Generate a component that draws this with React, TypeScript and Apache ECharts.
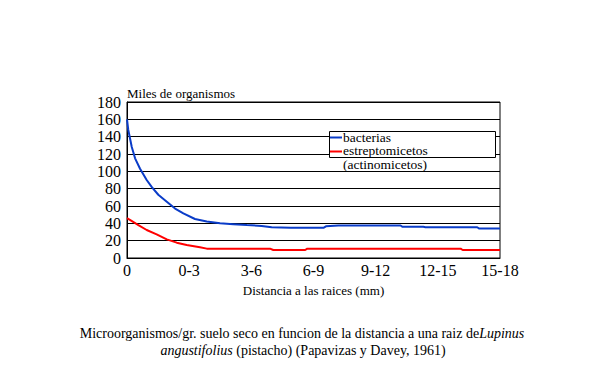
import React, { useEffect, useRef } from "react";
import * as echarts from "echarts";

const xTickLabels = ["0", "0-3", "3-6", "6-9", "9-12", "12-15", "15-18"];
const yTicks = [0, 20, 40, 60, 80, 100, 120, 140, 160, 180];

const bacteriaX = [0, 0.06, 0.23, 0.39, 0.63, 0.95, 1.19, 1.51, 1.92, 2.32, 2.72, 3.28, 3.85, 4.49, 5.13, 5.78, 6.5, 6.98, 7.9, 9.5, 9.6, 10.2, 13.2, 13.3, 14.3, 14.4, 16.9, 17.0, 18];
const bacteriaY = [160, 148, 128, 115, 103, 90, 82, 73, 65, 57, 51.5, 45, 42, 40, 39, 38, 37, 35.5, 35, 35, 36.5, 37.5, 37.5, 36, 36, 35.5, 35.5, 34, 34];

const strepX = [0, 0.14, 0.55, 0.95, 1.43, 1.92, 2.4, 2.88, 3.52, 3.85, 6.9, 7.06, 8.6, 8.7, 16.1, 16.2, 18];
const strepY = [46, 44, 38, 32.3, 27.3, 21.5, 17.7, 15, 12.3, 10.8, 10.8, 9.2, 9.2, 10.8, 10.8, 9.2, 9.2];

const seriesNames = ["bacterias", "estreptomicetos"];
const legendExtra = "(actinomicetos)";
const yTitle = "Miles de organismos";
const xTitle = "Distancia a las raices (mm)";
const captionLine1 = "Microorganismos/gr. suelo seco en funcion de la distancia a una raiz de";
const captionItalic1 = "Lupinus";
const captionItalic2 = "angustifolius";
const captionLine2 = " (pistacho) (Papavizas y Davey, 1961)";

const BLUE = "#0a3cc8";
const RED = "#ff0000";
const FONT = "Liberation Serif";

export default function App() {
  const ref = useRef<HTMLDivElement>(null);
  useEffect(() => {
    if (!ref.current) return;
    const chart = echarts.init(ref.current, null, { renderer: "svg" });
    const pairs = (xs: number[], ys: number[]) => xs.map((x, i) => [x, ys[i]]);
    const txt = (size: number, extra: any = {}) => ({
      fontFamily: FONT,
      fontSize: size,
      fill: "#000",
      ...extra,
    });
    chart.setOption({
      animation: false,
      backgroundColor: "#ffffff",
      textStyle: { fontFamily: FONT },
      grid: { left: 127, right: 114, top: 102, bottom: 125, show: true, borderColor: "#000", borderWidth: 1 },
      xAxis: {
        type: "value",
        min: 0,
        max: 18,
        interval: 3,
        axisLine: { show: true, lineStyle: { color: "#000", width: 1 } },
        axisTick: { show: false },
        splitLine: { show: false },
        axisLabel: {
          color: "#000",
          fontSize: 16,
          fontFamily: FONT,
          margin: 4,
          formatter: (v: number) => xTickLabels[Math.round(v / 3)] ?? "",
        },
        name: xTitle,
        nameLocation: "middle",
        nameGap: 26,
        nameTextStyle: { color: "#000", fontSize: 13, fontFamily: FONT },
      },
      yAxis: {
        type: "value",
        min: yTicks[0],
        max: yTicks[yTicks.length - 1],
        interval: 20,
        axisLine: { show: true, lineStyle: { color: "#000", width: 1 } },
        axisTick: { show: false },
        splitLine: { show: true, lineStyle: { color: "#000", width: 1 } },
        axisLabel: { color: "#000", fontSize: 16, fontFamily: FONT, margin: 6 },
      },
      series: [
        {
          name: seriesNames[0],
          type: "line",
          data: pairs(bacteriaX, bacteriaY),
          showSymbol: false,
          smooth: false,
          lineStyle: { color: BLUE, width: 2 },
          itemStyle: { color: BLUE },
        },
        {
          name: seriesNames[1],
          type: "line",
          data: pairs(strepX, strepY),
          showSymbol: false,
          smooth: false,
          lineStyle: { color: RED, width: 2 },
          itemStyle: { color: RED },
        },
      ],
      graphic: [
        { type: "text", x: 127, y: 93, style: txt(13, { text: yTitle, verticalAlign: "middle" }) },
        {
          type: "rect",
          shape: { x: 329.5, y: 131.5, width: 166, height: 26 },
          style: { fill: "#fff", stroke: "#000", lineWidth: 1 },
          z: 10,
        },
        { type: "line", shape: { x1: 330, y1: 137.5, x2: 342, y2: 137.5 }, style: { stroke: BLUE, lineWidth: 2 }, z: 11 },
        { type: "line", shape: { x1: 330, y1: 151.5, x2: 342, y2: 151.5 }, style: { stroke: RED, lineWidth: 2 }, z: 11 },
        { type: "text", x: 343, y: 137, style: txt(13.5, { text: seriesNames[0], verticalAlign: "middle", lineHeight: 12 }), z: 11 },
        { type: "text", x: 343, y: 150.5, style: txt(13.5, { text: seriesNames[1], verticalAlign: "middle", lineHeight: 12 }), z: 11 },
        { type: "text", x: 343, y: 164, style: txt(13.5, { text: legendExtra, verticalAlign: "middle", lineHeight: 12 }), z: 11 },
        {
          type: "text",
          x: 302,
          y: 333,
          style: {
            text: `{n|${captionLine1}}{i|${captionItalic1}}`,
            align: "center",
            verticalAlign: "middle",
            rich: {
              n: { fontFamily: FONT, fontSize: 14, color: "#000" },
              i: { fontFamily: FONT, fontSize: 14, fontStyle: "italic", color: "#000" },
            },
          },
        },
        {
          type: "text",
          x: 303,
          y: 350,
          style: {
            text: `{i|${captionItalic2}}{n|${captionLine2}}`,
            align: "center",
            verticalAlign: "middle",
            rich: {
              n: { fontFamily: FONT, fontSize: 14, color: "#000" },
              i: { fontFamily: FONT, fontSize: 14, fontStyle: "italic", color: "#000" },
            },
          },
        },
      ],
    });
    return () => chart.dispose();
  }, []);
  return (
    <div
      ref={ref}
      style={{ position: "fixed", left: 0, top: 0, width: 614, height: 383, background: "#fff" }}
    />
  );
}
